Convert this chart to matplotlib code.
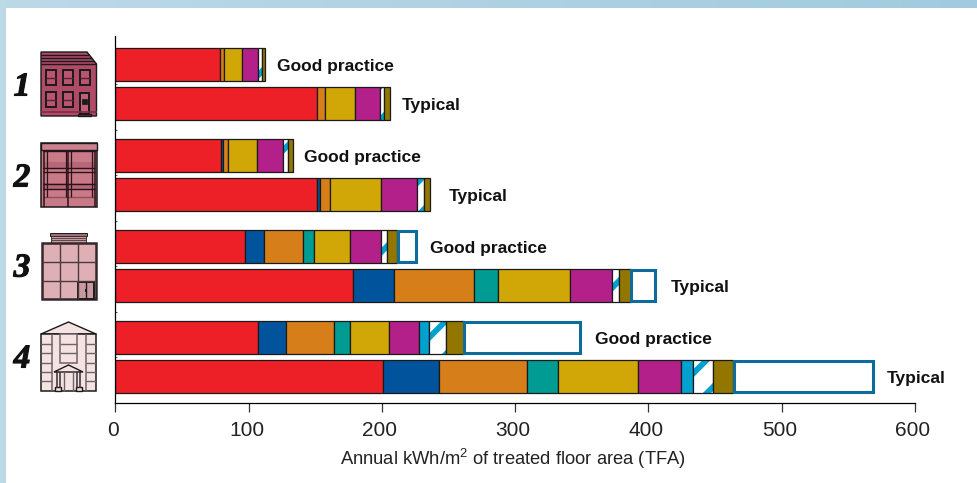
import numpy as np
import matplotlib
matplotlib.use("Agg")
import matplotlib.pyplot as plt
import matplotlib.patheffects as pe
from matplotlib.patches import Polygon, Rectangle
from matplotlib.transforms import ScaledTranslation

plt.rcParams['font.family'] = ['Liberation Sans', 'DejaVu Sans']
plt.rcParams['mathtext.default'] = 'regular'
plt.rcParams['hatch.linewidth'] = 4.2

# order: good practice / typical for buildings 1 to 4
bar_labels = ["Good practice", "Typical"] * 4
heating = [78.4, 151, 79, 151, 97.4, 178, 107.2, 201]
cooling = [0, 0, 1.5, 2.2, 13.8, 31.2, 21, 41.6]
fans = [3, 6.2, 3.7, 8, 29.5, 60.1, 35.8, 66.4]
pumps = [0, 0, 0, 0, 8.3, 18, 12, 23.3]
lighting = [13.8, 22.8, 22, 38, 27, 54, 29.2, 59.7]
office_eq = [12, 18.5, 19.7, 27.1, 23, 31.1, 22.8, 32.6]
hot_water = [0, 0, 0, 0, 0, 0, 7.5, 9]
other_elec = [2.5, 3.2, 3.3, 5, 5, 5.6, 12.5, 14.8]
catering = [2.7, 4.1, 4, 5, 7.3, 8.6, 13.3, 14.8]
computer_room = [0, 0, 0, 0, 14.7, 18.4, 87.7, 105.5]

xticks = [0, 100, 200, 300, 400, 500, 600]
label_gap = [12, 12.5, 11, 18.5, 13.5, 16, 14, 13]
building_names = ["1", "2", "3", "4"]

RED = "#ed1f27"
BLUE = "#01549b"
ORANGE = "#d67f1a"
TEAL = "#009b93"
GOLD = "#d0a706"
MAGENTA = "#b3208a"
CYAN = "#00a0cf"
OLIVE = "#927600"
BOX = "#0f6b9c"
EDGE = "#1a1a1a"


def rect(ax, x0, y0, x1, y1, fc="none", ec=EDGE, lw=1.0):
    ax.add_patch(Rectangle((x0, y0), x1 - x0, y1 - y0, fc=fc, ec=ec, lw=lw))


def hline(ax, y, x0, x1, c=EDGE, lw=1.0):
    ax.plot([x0, x1], [y, y], color=c, lw=lw, solid_capstyle="butt")


def vline(ax, x, y0, y1, c=EDGE, lw=1.0):
    ax.plot([x, x], [y0, y1], color=c, lw=lw, solid_capstyle="butt")


def building_1(ax):
    c = "#b04a66"
    ax.add_patch(Polygon([(41, 52), (87, 52), (96.5, 64), (96.5, 116), (41, 116)], fc=c, ec=EDGE, lw=1.0))
    for y in [55, 58, 61, 64]:
        hline(ax, y, 41, 96 if y == 64 else 87 + (y - 52) * 0.8)
    hline(ax, 112, 41, 96.5, c="#7d2c47", lw=1.2)
    for y0 in [70, 92]:
        for x0 in [45.5, 62.5, 79.5]:
            if y0 == 92 and x0 == 79.5:
                continue
            rect(ax, x0, y0, x0 + 10, y0 + 15, fc="#b85670", lw=1.4)
            hline(ax, y0 + 7.5, x0, x0 + 10, c="#5a2036", lw=1.0)
    rect(ax, 80, 93, 89, 114, fc="#c0607a", lw=1.4)
    rect(ax, 82, 99, 87, 104, fc=EDGE, lw=0.5)
    rect(ax, 78, 113.5, 91, 116, fc="#7d2c47", lw=1.0)


def building_2(ax):
    c = "#c97a88"
    dark = "#2a1218"
    rect(ax, 41, 143, 96.7, 206.7, fc=c, lw=1.1)
    rect(ax, 41, 143, 96.7, 149.5, fc="#cd8090", lw=1.0)
    for y0, y1 in [(161.5, 168), (183, 189)]:
        rect(ax, 43, y0, 95, y1, fc="#b5687a", ec="none", lw=0)
    for y in [151, 167.5, 172, 184, 188.5]:
        hline(ax, y, 43, 95, c=dark, lw=1.0)
    hline(ax, 197, 43, 95, c="#8c4f5c", lw=1.0)
    for x in [47, 65.5, 70.7, 91.7]:
        vline(ax, x, 149.5, 197, c=dark, lw=0.9)
    for x in [43.5, 68, 95]:
        vline(ax, x, 149.5, 206.7, c=dark, lw=1.1)


def building_3(ax):
    c = "#deb0b5"
    rect(ax, 49.5, 233, 87, 236, fc="#9a7177", lw=0.7)
    rect(ax, 51, 236, 86, 243, fc="#c79a9f", ec="#3c3034", lw=0.7)
    for y in [238, 240]:
        hline(ax, y, 51, 86, c="#4a3a3e", lw=0.6)
    rect(ax, 41.5, 243, 95.5, 299, fc=c, ec="#33282b", lw=1.8)
    for x in [59.5, 77.5]:
        vline(ax, x, 243, 299, c="#4a3a3e", lw=1.0)
    for y in [262, 281]:
        hline(ax, y, 41.5, 95.5, c="#4a3a3e", lw=1.0)
    rect(ax, 78, 282, 94, 298.5, fc="#c79a9f", ec="#1f1a1b", lw=1.4)
    vline(ax, 86, 282, 298.5, c="#1f1a1b", lw=1.0)
    rect(ax, 85.3, 289, 86.7, 292, fc="#1f1a1b", ec="none", lw=0)


def building_4(ax):
    c = "#f5e2e2"
    g = "#6e6466"
    ax.add_patch(Polygon([(41, 334), (68.5, 322), (96, 334)], fc=c, ec=EDGE, lw=1.0))
    rect(ax, 41, 334, 96, 391, fc=c, lw=1.1)
    for x in [51.5, 85.5]:
        vline(ax, x, 334, 391, c=g, lw=1.1)
    for y in [344, 353, 362.7, 371.7, 381]:
        hline(ax, y, 41, 51.5, c=g, lw=1.0)
        hline(ax, y, 85.5, 96, c=g, lw=1.0)
    rect(ax, 60, 334, 77, 363, fc=c, ec=g, lw=1.1)
    for y in [344, 353]:
        hline(ax, y, 60, 77, c=g, lw=1.0)
    ax.add_patch(Polygon([(54, 372), (68.5, 365), (83, 372)], fc=c, ec=EDGE, lw=1.0))
    for x in [57, 60, 77, 80]:
        vline(ax, x, 372, 388, c="#333031", lw=1.1)
    for x in [64, 73]:
        vline(ax, x, 372, 391, c=g, lw=1.0)
    rect(ax, 55, 387, 61, 391, fc=c, lw=1.0)
    rect(ax, 76, 387, 82, 391, fc=c, lw=1.0)


fig = plt.figure(figsize=(9.78, 4.83), dpi=100)

# page decoration and icons are drawn in pixel coordinates
bg = fig.add_axes([0, 0, 1, 1], zorder=0)
bg.set_xlim(0, 978)
bg.set_ylim(483, 0)
bg.axis("off")
gradient = np.linspace(0, 1, 256).reshape(1, -1)
cmap = matplotlib.colors.LinearSegmentedColormap.from_list("band", ["#bcd9e8", "#a2cade"])
bg.imshow(gradient, cmap=cmap, extent=[0, 978, 8.5, 0], aspect="auto")
bg.add_patch(Rectangle((0, 0), 6, 483, fc="#bcd9e8", ec="none"))
bg.set_xlim(0, 978)
bg.set_ylim(483, 0)

building_1(bg)
building_2(bg)
building_3(bg)
building_4(bg)
for name, y in zip(building_names, [87, 178, 268, 359]):
    bg.text(22, y, name, family="Liberation Serif", weight="bold", style="italic",
            fontsize=24, ha="center", va="center", color="#111111",
            path_effects=[pe.withStroke(linewidth=0.8, foreground="#111111")])

ax = fig.add_axes([115.5 / 978, 1 - 403 / 483, (915 - 115.5) / 978, (403 - 36) / 483], zorder=1)
ax.patch.set_alpha(0)
ax.set_xlim(0, 600)
ax.set_ylim(403, 36)

centres = []
for i in range(4):
    centres += [84 + 91 * i - 19.5, 84 + 91 * i + 19.5]
centres = np.array(centres)
h = 33

left = np.zeros(8)
for vals, colour in [(heating, RED), (cooling, BLUE), (fans, ORANGE), (pumps, TEAL),
                     (lighting, GOLD), (office_eq, MAGENTA), (hot_water, CYAN)]:
    vals = np.array(vals)
    keep = vals > 0
    ax.barh(centres[keep], vals[keep], height=h, left=left[keep], color=colour, edgecolor=EDGE, linewidth=0.9)
    left += vals

vals = np.array(other_elec)
ax.barh(centres, vals, height=h, left=left, color="white", edgecolor=CYAN, linewidth=0, hatch="/")
ax.barh(centres, vals, height=h, left=left, fill=False, edgecolor=EDGE, linewidth=0.9)
left += vals

vals = np.array(catering)
ax.barh(centres, vals, height=h, left=left, color=OLIVE, edgecolor=EDGE, linewidth=0.9)
left += vals

vals = np.array(computer_room)
keep = vals > 0
ax.barh(centres[keep], vals[keep] - 1, height=h - 2, left=left[keep] + 0.6, color="white", edgecolor=BOX, linewidth=2.2)
left += vals

for y, end, text, gap in zip(centres, left, bar_labels, label_gap):
    ax.annotate(text, (end, y), xytext=(gap * 0.72, -1.5), textcoords="offset points",
                fontsize=12.5, fontweight="bold", va="center", ha="left", color="#111111")

ax.spines["top"].set_visible(False)
ax.spines["right"].set_visible(False)
ax.spines["left"].set_linewidth(0.9)
ax.spines["bottom"].set_linewidth(0.9)
ax.set_xticks(xticks)
ax.tick_params(axis="x", length=6.5, width=0.9, labelsize=15, pad=6.5, color="#333333", labelcolor="#222222")
shift = ScaledTranslation(-2 / 100, 0, fig.dpi_scale_trans)
for lab in ax.get_xticklabels():
    lab.set_transform(lab.get_transform() + shift)
ax.set_yticks([84, 129.5, 175, 220.5, 266, 311.5, 357])
ax.set_yticklabels([])
ax.tick_params(axis="y", direction="in", length=1.5, width=0.7, color="#555555")
ax.set_xlabel("Annual kWh/m$^2$ of treated floor area (TFA)", fontsize=13.2, labelpad=5, x=0.4965, color="#222222")

fig.savefig("out.png", dpi=100)
